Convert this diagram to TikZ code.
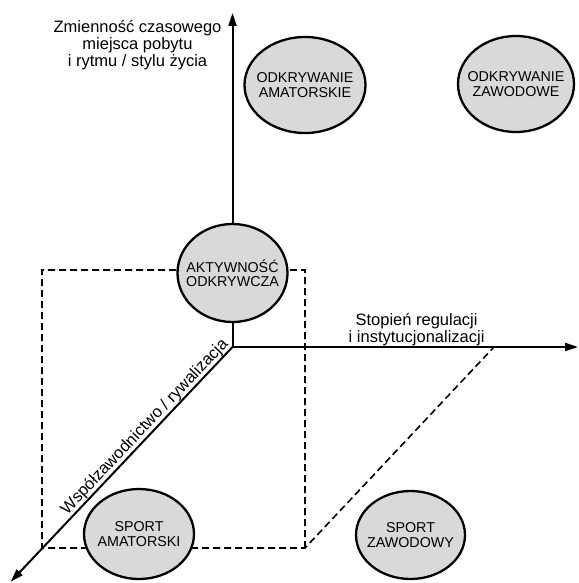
\documentclass[tikz,border=0pt]{standalone}
\usepackage{fontspec}
\setmainfont{Liberation Sans}
\usetikzlibrary{shapes.geometric,arrows.meta}
\definecolor{bubblefill}{RGB}{217,217,217}
\begin{document}
\begin{tikzpicture}[x=1pt,y=-1pt,
  axis/.style={line width=2pt,-{Triangle[length=13pt,width=8pt]}},
  guide/.style={line width=1.6pt,dash pattern=on 7pt off 4pt},
  bubble/.style={ellipse,draw,line width=2.3pt,fill=bubblefill,inner sep=-14pt,align=center,font=\fontsize{14.3}{14.5}\selectfont},
  axislabel/.style={align=center,inner sep=0pt,font=\fontsize{16.5}{17.2}\selectfont}]
\useasboundingbox (0,0) rectangle (578,583);
% coordinates
\coordinate (O) at (232.5,347);
\coordinate (ytip) at (232.5,13);
\coordinate (xtip) at (578,347);
\coordinate (ztip) at (10.7,581.7);
\coordinate (g1) at (305,548);
\coordinate (g2) at (305,270);
\coordinate (g3) at (42,270);
\coordinate (g4) at (42,548);
\coordinate (g5) at (494,347);
% dashed guides
\draw[guide] (g1) -- (g2) -- (g3) -- (g4) -- (g1) -- (g5);
% axes
\draw[axis] (O) -- (ytip);
\draw[axis] (O) -- (xtip);
\draw[axis] (O) -- (ztip);
% bubbles
\node[bubble,minimum width=110pt,minimum height=98pt] (akt) at (232.5,273) {AKTYWNOŚĆ\\ODKRYWCZA};
\node[bubble,minimum width=121pt,minimum height=96pt] (odkam) at (305,85) {ODKRYWANIE\\AMATORSKIE};
\node[bubble,minimum width=116pt,minimum height=96pt] (odkzaw) at (516,84) {ODKRYWANIE\\ZAWODOWE};
\node[bubble,minimum width=110pt,minimum height=90pt] (spam) at (139,534) {SPORT\\AMATORSKI};
\node[bubble,minimum width=109pt,minimum height=88pt] (spzaw) at (410.5,535) {SPORT\\ZAWODOWY};
% labels
\node[axislabel,anchor=north] (ylab) at (137.5,20) {Zmienność czasowego\\miejsca pobytu\\i rytmu / stylu życia};
\node[axislabel,anchor=north] (xlab) at (416.6,313) {Stopień regulacji\\i instytucjonalizacji};
\node[axislabel,anchor=south east,rotate=46.6,inner sep=0.8pt] (zlab) at (O) {Współzawodnictwo / rywalizacja};
\end{tikzpicture}
\end{document}
